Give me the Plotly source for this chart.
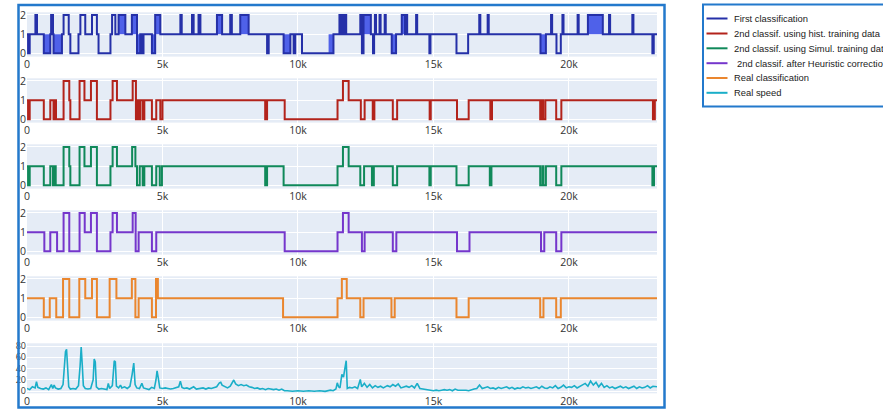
import plotly.graph_objects as go
from plotly.subplots import make_subplots

# ---------------- data ----------------
x_end = 23250

first_x = [0, 40, 100, 310, 370, 620, 860, 890, 960, 980, 1290, 1350, 1540, 1600, 1900, 1970, 2150, 2400, 2580, 2640,
           3080, 3140, 3260, 3380, 3630, 3870, 4060, 4180, 4240, 4300, 4610, 4730, 4920, 5660, 5710, 6090, 6150, 6330,
           6400, 7010, 7200, 7500, 7560, 7870, 8180, 8860, 8920, 9470, 9720, 9840, 9900, 10150, 11310, 11530, 11570,
           11610, 11680, 11730, 11780, 12300, 12360, 12420, 12690, 12770, 12810, 12840, 12880, 13010, 13050, 13200,
           13240, 13460, 13620, 13830, 13950, 13990, 14030, 14360, 14400, 14850, 14890, 15850, 16280, 16690, 16730,
           17000, 17040, 18950, 19150, 19340, 19380, 19540, 19700, 19760, 19800, 20320, 20360, 20700, 21250, 21480,
           21520, 22340, 22380, 23080, 23130]
first_y = [1, 0, 1, 2, 1, 0, 1, 2, 1, 0, 1, 2, 1, 0, 1, 2, 1, 2, 1, 0,
           1, 2, 1, 2, 1, 2, 0, 1, 0, 1, 0, 2, 1, 2, 1, 2, 1, 2,
           1, 2, 1, 2, 1, 2, 1, 0, 1, 0, 1, 0, 1, 0, 1, 2, 1,
           2, 1, 2, 1, 2, 0, 2, 1, 0, 1, 2, 1, 2, 1, 2,
           1, 0, 1, 2, 1, 2, 1, 2, 1, 0, 1, 0, 1, 2, 1,
           2, 1, 0, 1, 2, 1, 0, 1, 2, 1, 2, 1, 2, 1, 2,
           1, 2, 1, 0, 1]
# rapid-oscillation stretches of the first classification (start, end, low, high)
burst_start = [620, 980, 3380, 3870, 4060, 4610, 4730, 7010, 7870, 9470, 11130, 12300, 13460, 13830, 18950, 20700]
burst_end = [860, 1290, 3630, 4060, 4180, 4730, 4920, 7200, 8180, 9720, 11310, 12690, 13620, 13950, 19150, 21250]
burst_low = [0, 0, 1, 1, 0, 0, 1, 1, 1, 0, 0, 1, 0, 1, 0, 1]
burst_high = [1, 1, 2, 2, 1, 1, 2, 2, 2, 1, 1, 2, 1, 2, 1, 2]

hist_x = [0, 40, 100, 620, 860, 980, 1020, 1070, 1350, 1560, 1600, 1940, 2120, 2360, 2580, 3080, 3160, 3320, 3900,
          4020, 4080, 4130, 4180, 4270, 4330, 4610, 4770, 4920, 5000, 8790, 8860, 9510, 11460, 11660, 11870, 12320,
          12460, 12760, 12820, 13500, 13660, 14860, 14900, 15870, 16300, 17100, 17160, 18940, 19010, 19050, 19130,
          19530, 19720, 23100, 23170]
hist_y = [1, 0, 1, 0, 1, 0, 1, 0, 2, 1, 0, 2, 1, 2, 0, 1, 2, 1, 2,
          0, 1, 0, 1, 0, 1, 0, 1, 0, 1, 0, 1, 0, 1, 2, 1, 0,
          1, 0, 1, 0, 1, 0, 1, 0, 1, 0, 1, 0, 1, 0, 1,
          0, 1, 0, 1]

simul_x = [0, 40, 100, 620, 860, 960, 1000, 1060, 1350, 1560, 1600, 1940, 2120, 2360, 2580, 3080, 3160, 3320, 3880,
           4000, 4060, 4160, 4270, 4330, 4610, 4770, 4900, 4980, 8790, 8860, 9470, 11460, 11660, 11870, 12300, 12440,
           12730, 12800, 13500, 13660, 14850, 14900, 15850, 16300, 17080, 17140, 18940, 19020, 19060, 19150, 19530,
           19720, 23080, 23140]
simul_y = [1, 0, 1, 0, 1, 0, 1, 0, 2, 1, 0, 2, 1, 2, 0, 1, 2, 1, 2,
           1, 0, 1, 0, 1, 0, 1, 0, 1, 0, 1, 0, 1, 2, 1, 0, 1,
           0, 1, 0, 1, 0, 1, 0, 1, 0, 1, 0, 1, 0, 1, 0,
           1, 0, 1]

heur_x = [0, 640, 860, 1110, 1350, 1560, 1940, 2130, 2360, 2580, 3080, 3160, 3320, 3900, 4010, 4120, 4610, 4770,
          9510, 11460, 11660, 11870, 12360, 12460, 13500, 13630, 15870, 16330, 18970, 19090, 19530, 19720]
heur_y = [1, 0, 1, 0, 2, 0, 2, 1, 2, 0, 1, 2, 1, 2, 0, 1, 0, 1,
          0, 1, 2, 1, 0, 1, 0, 1, 0, 1, 0, 1, 0, 1]

real_x = [0, 620, 840, 1080, 1330, 1560, 1930, 2150, 2400, 2580, 3050, 3300, 3870, 4000, 4120, 4610, 4760, 4830,
          9450, 11460, 11620, 11800, 12300, 12420, 13450, 13570, 15850, 16300, 18940, 19060, 19530, 19700]
real_y = [1, 0, 1, 0, 2, 0, 2, 1, 2, 0, 2, 1, 2, 0, 1, 0, 2, 1,
          0, 1, 2, 1, 0, 1, 0, 1, 0, 1, 0, 1, 0, 1]

speed_x = [0, 100, 200, 300, 350, 400, 500, 600, 700, 800, 900, 950, 1000, 1050, 1150, 1250, 1330, 1380, 1420, 1460,
           1500, 1540, 1600, 1700, 1800, 1900, 1960, 2000, 2040, 2080, 2150, 2250, 2350, 2440, 2480, 2520, 2560, 2650,
           2750, 2850, 2950, 3000, 3050, 3150, 3220, 3260, 3300, 3380, 3450, 3500, 3600, 3700, 3800, 3880, 3940, 3990,
           4050, 4150, 4240, 4300, 4400, 4500, 4600, 4700, 4760, 4800, 4850, 4900, 5000, 5100, 5200, 5300, 5400, 5500,
           5600, 5660, 5720, 5800, 5900, 6000, 6150, 6250, 6400, 6500, 6600, 6700, 6800, 6900, 7000, 7100, 7150, 7200,
           7300, 7400, 7500, 7630, 7700, 7800, 7900, 8000, 8100, 8200, 8300, 8400, 8500, 8600, 8700, 8800, 8900, 9000,
           9100, 9200, 9300, 9400, 9500, 9600, 9800, 10000, 10200, 10400, 10600, 10800, 11000, 11200, 11300, 11400,
           11450, 11500, 11550, 11620, 11680, 11730, 11780, 11820, 11900, 12000, 12100, 12200, 12300, 12350, 12450,
           12550, 12650, 12750, 12850, 12950, 13050, 13150, 13300, 13400, 13500, 13600, 13700, 13800, 13900, 14000,
           14100, 14200, 14300, 14400, 14500, 14600, 14700, 14800, 14900, 15000, 15100, 15200, 15300, 15400, 15500,
           15600, 15700, 15800, 15900, 16000, 16100, 16200, 16300, 16400, 16500, 16600, 16700, 16800, 16900, 17000,
           17100, 17200, 17300, 17400, 17500, 17600, 17700, 17800, 17900, 18000, 18100, 18200, 18300, 18400, 18500,
           18600, 18700, 18800, 18900, 19000, 19100, 19200, 19300, 19400, 19500, 19600, 19700, 19800, 19900, 20000,
           20100, 20200, 20300, 20400, 20500, 20600, 20700, 20800, 20900, 21000, 21100, 21200, 21300, 21400, 21500,
           21600, 21700, 21800, 21900, 22000, 22100, 22200, 22300, 22400, 22500, 22600, 22700, 22800, 22900, 23000,
           23100, 23250]
speed_y = [5, 3, 8, 6, 17, 7, 5, 4, 6, 3, 12, 5, 11, 6, 4, 5, 12, 43, 70, 74,
           40, 8, 4, 5, 4, 10, 45, 78, 46, 10, 5, 4, 5, 20, 57, 52, 8, 4,
           5, 4, 3, 14, 5, 10, 54, 52, 9, 6, 11, 6, 8, 5, 9, 30, 50, 12,
           6, 5, 14, 6, 4, 3, 7, 5, 20, 36, 22, 6, 5, 6, 5, 4, 5, 6,
           8, 18, 7, 5, 6, 4, 8, 4, 5, 6, 4, 6, 5, 7, 8, 15, 16, 11,
           8, 6, 9, 20, 13, 10, 12, 10, 11, 8, 7, 5, 6, 4, 5, 3, 5, 4,
           3, 4, 2, 4, 1, 1, 0, 1, 0, 1, 0, 1, 0, 2, 1, 4,
           15, 8, 6, 30, 25, 40, 54, 5, 7, 6, 8, 5, 21, 8, 14,
           7, 12, 6, 10, 7, 9, 6, 10, 8, 12, 9, 13, 6, 8, 9,
           7, 10, 6, 14, 5, 4, 3, 2, 2, 1, 2, 1, 2, 3, 2,
           3, 1, 4, 2, 2, 3, 2, 1, 3, 4, 5, 11, 5, 6, 8,
           5, 6, 4, 7, 5, 6, 8, 5, 7, 4, 6, 5, 8, 6, 7,
           5, 6, 8, 5, 9, 6, 5, 8, 6, 10, 5, 7, 11, 6, 8,
           7, 10, 6, 9, 12, 14, 9, 18, 11, 16, 8, 14, 7, 10, 6,
           8, 5, 7, 9, 6, 8, 5, 7, 9, 5, 8, 6, 7, 10, 6,
           9, 8]

names = ["First classification", "2nd classif. using hist. training data",
         "2nd classif. using Simul. training data", " 2nd classif. after Heuristic correction",
         "Real classification", "Real speed"]
colors = ["#2530a8", "#b3231b", "#10895a", "#7536cc", "#ea862e", "#1aaec8"]

# ---------------- figure ----------------
W, H = 883, 410
L_M, PW = 27, 630

fig = make_subplots(rows=6, cols=1)


def step(xs, ys):
    return list(xs) + [x_end], list(ys) + [ys[-1]]


# bursts of rapid switching in the first classification
for s, e, lo, hi in zip(burst_start, burst_end, burst_low, burst_high):
    fig.add_trace(go.Scatter(x=[s, s, e, e, s], y=[lo, hi, hi, lo, lo], mode="lines", fill="toself",
                             fillcolor="rgba(62,82,232,0.9)", line=dict(width=0), hoverinfo="skip",
                             showlegend=False), row=1, col=1)

series = [(first_x, first_y), (hist_x, hist_y), (simul_x, simul_y), (heur_x, heur_y), (real_x, real_y)]
for i, (xs, ys) in enumerate(series):
    sx, sy = step(xs, ys)
    fig.add_trace(go.Scatter(x=sx, y=sy, mode="lines", line=dict(color=colors[i], width=2, shape="hv"),
                             name=names[i], showlegend=False), row=i + 1, col=1)

fig.add_trace(go.Scatter(x=speed_x, y=speed_y, mode="lines", line=dict(color=colors[5], width=1.6),
                         name=names[5], showlegend=False), row=6, col=1)

tickfont = dict(family="Open Sans, DejaVu Sans, sans-serif", size=10.5, color="#333")
small_tickfont = dict(family="Open Sans, DejaVu Sans, sans-serif", size=9, color="#333")


def ydom(top_px, bot_px):
    return [1 - bot_px / H, 1 - top_px / H]


for i in range(6):
    ax = "xaxis" if i == 0 else f"xaxis{i + 1}"
    ay = "yaxis" if i == 0 else f"yaxis{i + 1}"
    if i < 5:
        dom = ydom(12.3 + 66 * i, 56.6 + 66 * i)
        fig.layout[ay].update(domain=dom, range=[-0.17, 2.14], dtick=1, tick0=0, tickfont=tickfont,
                              gridcolor="white", zeroline=False)
    else:
        dom = ydom(343.3, 393.3)
        fig.layout[ay].update(domain=dom, range=[-3.5, 84.8], dtick=20, tick0=0, tickfont=small_tickfont,
                              gridcolor="white", zeroline=False)
    fig.layout[ax].update(range=[0, x_end], dtick=5000, tick0=0, tickfont=tickfont, gridcolor="white",
                          zeroline=False, showticklabels=True)


def px_x(p):
    return (p - L_M) / PW


def px_y(p):
    return 1 - p / H


frame_col = "#2379cc"
shapes = [
    dict(type="rect", xref="paper", yref="paper", x0=px_x(18.5), x1=px_x(664.5), y0=px_y(407.5), y1=px_y(5),
         line=dict(color=frame_col, width=2.5), fillcolor="rgba(0,0,0,0)", layer="above"),
    dict(type="rect", xref="paper", yref="paper", x0=px_x(703), x1=px_x(900), y0=px_y(106.5), y1=px_y(4.5),
         line=dict(color=frame_col, width=2), fillcolor="white", layer="above"),
]
annotations = []
leg_rows = [18.5, 33.5, 48.3, 63.2, 78, 92.8]
for i, yy in enumerate(leg_rows):
    shapes.append(dict(type="line", xref="paper", yref="paper", x0=px_x(706.5), x1=px_x(727.5),
                       y0=px_y(yy), y1=px_y(yy), line=dict(color=colors[i], width=2), layer="above"))
    annotations.append(dict(xref="paper", yref="paper", x=px_x(731.5 + (3 if i == 3 else 0)), y=px_y(yy),
                            text=names[i].strip(), showarrow=False, xanchor="left", yanchor="middle",
                            font=dict(family="Liberation Sans, Arial, sans-serif", size=9.4, color="#222")))

fig.update_layout(
    width=W, height=H,
    margin=dict(l=L_M, r=W - L_M - PW, t=0, b=0, autoexpand=False),
    paper_bgcolor="white", plot_bgcolor="#E5ECF6",
    showlegend=False,
    shapes=shapes, annotations=annotations,
    font=dict(family="Open Sans, DejaVu Sans, sans-serif"),
)

fig.write_html("out.html", config={"displayModeBar": False},
               post_script="document.body.style.margin='0px';document.body.style.overflow='hidden';")
